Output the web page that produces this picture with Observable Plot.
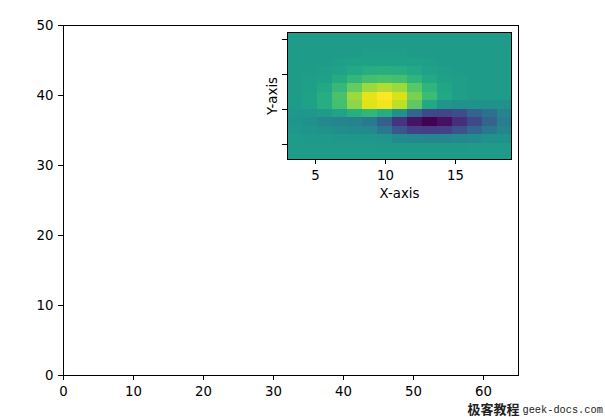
<!DOCTYPE html>
<html><head><meta charset="utf-8">
<script src="https://cdn.jsdelivr.net/npm/d3@7"></script>
<script src="https://cdn.jsdelivr.net/npm/@observablehq/plot@0.6"></script>
<style>
body{margin:0;background:#fff;}
#wrap{position:relative;width:605px;height:417px;}
#inset{position:absolute;left:257px;top:27px;}
</style></head><body><div id="wrap"><div id="main"></div><div id="inset"></div></div>
<script>
// Tick values
const mainXTicks = [0, 10, 20, 30, 40, 50, 60];
const mainYTicks = [0, 10, 20, 30, 40, 50];
const insetXTicks = [5, 10, 15];
const insetYTicks = [0, 2.5, 5, 7.5];
const insetXLabel = "X-axis";
const insetYLabel = "Y-axis";
const watermarkCn = "极客教程";
const watermarkEn = "geek-docs.com";

const imageRows = [
  [0.55,0.55,0.55,0.55,0.55,0.55,0.55,0.55,0.55,0.55,0.55,0.55,0.55,0.55,0.55],
  [0.55,0.55,0.55,0.55,0.55,0.55,0.55,0.55,0.55,0.55,0.55,0.55,0.55,0.55,0.55],
  [0.55,0.55,0.55,0.55,0.55,0.555,0.555,0.555,0.55,0.55,0.55,0.55,0.55,0.55,0.55],
  [0.55,0.55,0.55,0.555,0.565,0.57,0.57,0.57,0.565,0.555,0.55,0.55,0.55,0.55,0.55],
  [0.55,0.55,0.555,0.575,0.6,0.62,0.63,0.62,0.6,0.575,0.555,0.55,0.55,0.55,0.55],
  [0.55,0.555,0.57,0.61,0.66,0.7,0.71,0.7,0.65,0.6,0.57,0.555,0.55,0.55,0.55],
  [0.55,0.56,0.6,0.67,0.76,0.85,0.88,0.85,0.74,0.65,0.59,0.56,0.55,0.55,0.55],
  [0.55,0.57,0.62,0.71,0.85,0.96,1.0,0.94,0.8,0.68,0.6,0.56,0.55,0.55,0.55],
  [0.55,0.57,0.62,0.7,0.83,0.95,0.98,0.9,0.75,0.6,0.52,0.5,0.5,0.5,0.5],
  [0.53,0.53,0.55,0.58,0.63,0.66,0.62,0.5,0.33,0.22,0.21,0.24,0.32,0.37,0.45],
  [0.52,0.5,0.47,0.45,0.44,0.41,0.3,0.15,0.05,0.0,0.04,0.13,0.22,0.32,0.42],
  [0.53,0.52,0.5,0.49,0.48,0.47,0.4,0.27,0.19,0.18,0.19,0.25,0.33,0.4,0.45],
  [0.55,0.54,0.54,0.53,0.53,0.53,0.52,0.48,0.47,0.46,0.46,0.47,0.48,0.5,0.51],
  [0.55,0.55,0.55,0.55,0.55,0.55,0.54,0.54,0.54,0.54,0.54,0.54,0.545,0.55,0.55],
  [0.55,0.55,0.55,0.55,0.55,0.55,0.55,0.55,0.55,0.55,0.55,0.55,0.55,0.55,0.55]
];
const imageFlat = imageRows.flat();
const nCols = imageRows[0].length, nRows = imageRows.length;

const font = {fontFamily: "DejaVu Sans", fontSize: "13.3px", color: "black", background: "transparent", overflow: "visible"};

const main = Plot.plot({
  width: 605, height: 417,
  marginLeft: 63, marginRight: 87, marginTop: 25, marginBottom: 42,
  style: font,
  x: {domain: [0, 65]},
  y: {domain: [0, 50]},
  marks: [
    Plot.frame({stroke: "black", strokeWidth: 1}),
    Plot.axisX({ticks: mainXTicks, tickSize: 5, tickPadding: 6, label: null, stroke: "black", fontSize: 13.3}),
    Plot.axisY({ticks: mainYTicks, tickSize: 5, tickPadding: 5, label: null, stroke: "black", fontSize: 13.3}),
    Plot.text([watermarkCn], {frameAnchor: "bottom-right", dx: 1, dy: 34, textAnchor: "end", lineAnchor: "middle",
      fontFamily: "Noto Sans CJK SC", fontSize: 13, fontWeight: 600, fill: "#222"}),
    Plot.text([watermarkEn], {frameAnchor: "bottom-right", dx: 4, dy: 34, textAnchor: "start", lineAnchor: "middle",
      fontFamily: "Liberation Mono", fontSize: 10.3, fill: "#222"})
  ]
});
document.getElementById("main").appendChild(main);

const inset = Plot.plot({
  width: 259, height: 177,
  marginLeft: 30, marginRight: 5, marginTop: 5, marginBottom: 45,
  style: font,
  x: {domain: [3, 19]},
  y: {domain: [-1.07, 8.0]},
  color: {type: "linear", scheme: "viridis", domain: [0, 1]},
  marks: [
    Plot.raster(imageFlat, {width: nCols, height: nRows, x1: 3, x2: 19, y1: 8.0, y2: -1.07,
      fill: d => d, imageRendering: "pixelated"}),
    Plot.frame({stroke: "black", strokeWidth: 1}),
    Plot.axisX({ticks: insetXTicks, tickSize: 5, tickPadding: 6, label: null, stroke: "black", fontSize: 13.3}),
    Plot.axisY({ticks: insetYTicks, tickSize: 5, tickFormat: () => "", label: null, stroke: "black"}),
    Plot.text([insetXLabel], {frameAnchor: "bottom", dy: 34, textAnchor: "middle", lineAnchor: "middle", fontSize: 13.3, fill: "black"}),
    Plot.text([insetYLabel], {frameAnchor: "left", dx: -14.5, rotate: -90, textAnchor: "middle", lineAnchor: "middle", fontSize: 13.3, fill: "black"})
  ]
});
document.getElementById("inset").appendChild(inset);
</script></body></html>
